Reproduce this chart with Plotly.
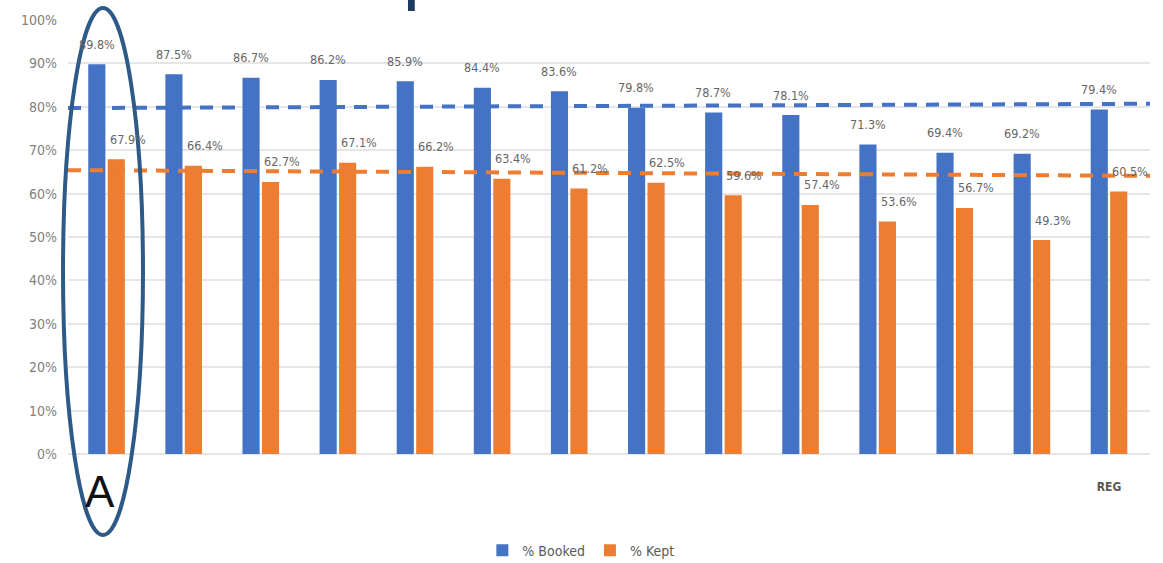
import plotly.graph_objects as go

# ---- data ----
categories = ["A", "B", "C", "D", "E", "F", "G", "H", "I", "J", "K", "L", "M", "REG"]
tick_labels = ["", "", "", "", "", "", "", "", "", "", "", "", "", "<b>REG</b>"]
booked = [89.8, 87.5, 86.7, 86.2, 85.9, 84.4, 83.6, 79.8, 78.7, 78.1, 71.3, 69.4, 69.2, 79.4]
kept = [67.9, 66.4, 62.7, 67.1, 66.2, 63.4, 61.2, 62.5, 59.6, 57.4, 53.6, 56.7, 49.3, 60.5]
booked_target = [79.7, 80.7]   # dashed reference line, left end -> right end
kept_target = [65.4, 64.1]
y_ticks = [0, 10, 20, 30, 40, 50, 60, 70, 80, 90, 100]

BLUE = "#4472C4"
ORANGE = "#ED7D31"
NARROW = "DejaVu Sans Condensed, Liberation Sans Narrow, sans-serif"

fig = go.Figure()
fig.add_trace(go.Bar(name="% Booked", x=categories, y=booked, marker_color=BLUE,
                     marker_line_width=0))
fig.add_trace(go.Bar(name="% Kept", x=categories, y=kept, marker_color=ORANGE,
                     marker_line_width=0))

# dashed reference lines on an overlaid unit x-axis
fig.add_trace(go.Scatter(x=[0, 1], y=booked_target, xaxis="x2", mode="lines",
                         line=dict(color=BLUE, width=4, dash="13px,9px"),
                         showlegend=False, hoverinfo="skip", cliponaxis=False))
fig.add_trace(go.Scatter(x=[0, 1], y=kept_target, xaxis="x2", mode="lines",
                         line=dict(color=ORANGE, width=4, dash="13px,9px"),
                         showlegend=False, hoverinfo="skip", cliponaxis=False))

# data labels
annotations = []
for c, b, k in zip(categories, booked, kept):
    annotations.append(dict(x=c, y=b, xref="x", yref="y", text=f"{b:.1f}%",
                            showarrow=False, xshift=-10, yshift=20, yanchor="middle",
                            font=dict(family=NARROW, size=12.5, color="#666666")))
    annotations.append(dict(x=c, y=k, xref="x", yref="y", text=f"{k:.1f}%",
                            showarrow=False, xshift=21, yshift=20, yanchor="middle",
                            font=dict(family=NARROW, size=12.5, color="#666666")))

# big "A" label under the first group
annotations.append(dict(x=categories[0], y=0, xref="x", yref="y", text="A",
                        showarrow=False, yshift=-37, xshift=-7, yanchor="middle",
                        font=dict(family="Liberation Sans, Arial, sans-serif",
                                  size=44, color="#111111")))

shapes = [
    # ellipse highlighting the first group
    dict(type="circle", xref="paper", yref="paper",
         x0=-0.0046, x1=0.0693, y0=-0.1866, y1=1.0276,
         line=dict(color="#2E5A88", width=4), fillcolor="rgba(0,0,0,0)", layer="above"),
    # small dark mark at the top edge
    dict(type="rect", xref="paper", yref="paper",
         x0=0.3142, x1=0.3205, y0=1.0207, y1=1.05,
         line=dict(width=0), fillcolor="#1F3A5F", layer="above"),
]

fig.update_layout(
    width=1163, height=563,
    margin=dict(l=68, r=13, t=20, b=109, autoexpand=False),
    paper_bgcolor="white", plot_bgcolor="white",
    barmode="group", bargap=0.495, bargroupgap=0.12,
    font=dict(family=NARROW, color="#7f7f7f"),
    xaxis=dict(tickmode="array", tickvals=categories, ticktext=tick_labels,
               showgrid=False, showline=False, zeroline=False,
               tickfont=dict(family=NARROW, size=12, color="#595959"),
               ticks="", ticklabelstandoff=24),
    xaxis2=dict(overlaying="x", range=[0, 1], visible=False, fixedrange=True),
    yaxis=dict(range=[0, 100], tickvals=y_ticks,
               ticktext=[f"{v}%" for v in y_ticks],
               showgrid=True, gridcolor="#e6e6e6", gridwidth=1.5,
               zeroline=True, zerolinecolor="#e6e6e6", zerolinewidth=1.5,
               showline=False, ticks="", ticklabelstandoff=10,
               tickfont=dict(family=NARROW, size=14, color="#808080")),
    legend=dict(orientation="h", x=0.474, xanchor="center",
                yref="container", y=0.022, yanchor="middle",
                font=dict(family=NARROW, size=14, color="#595959"),
                itemwidth=30, traceorder="normal"),
    annotations=annotations,
    shapes=shapes,
    showlegend=True,
)

fig.write_html("out.html")
